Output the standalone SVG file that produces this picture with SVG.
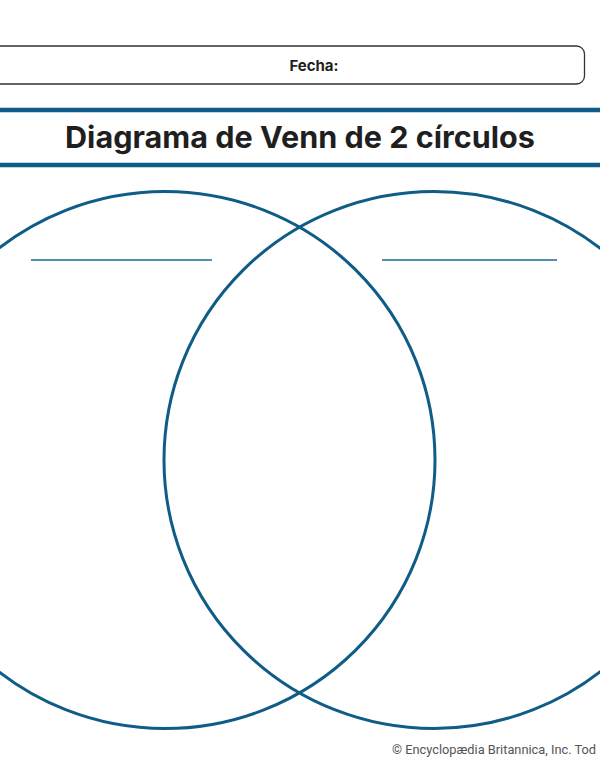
<svg xmlns="http://www.w3.org/2000/svg" width="600" height="776" viewBox="0 0 600 776">
<style>
.band{stroke:#0f5c86;stroke-width:4.5}
.venn{fill:none;stroke:#0f5c86;stroke-width:3}
.label{stroke:#1a6a93;stroke-width:1.5}
.t{font-family:Inter,"Liberation Sans",Arial,sans-serif;fill:#1f1f1f}
</style>
<rect width="600" height="776" fill="#fff"/>
<g id="fecha">
<rect x="-20" y="46" width="604.5" height="38" rx="8" fill="none" stroke="#333" stroke-width="1.3"/>
<text class="t" x="314" y="71" font-size="15" font-weight="700" text-anchor="middle">Fecha:</text>
</g>
<g id="title">
<line class="band" x1="0" y1="110" x2="600" y2="110"/>
<line class="band" x1="0" y1="165" x2="600" y2="165"/>
<text class="t" x="300" y="148" font-size="30.5" font-weight="700" text-anchor="middle" textLength="470" lengthAdjust="spacingAndGlyphs">Diagrama de Venn de 2 círculos</text>
</g>
<g id="circleA">
<ellipse class="venn" cx="165" cy="460" rx="270" ry="268.5"/>
<line class="label" x1="31" y1="260" x2="212" y2="260"/>
</g>
<g id="circleB">
<ellipse class="venn" cx="434" cy="460" rx="270" ry="268.5"/>
<line class="label" x1="382" y1="260" x2="557" y2="260"/>
</g>
<g id="connectors"></g>
<text x="392" y="754" font-family="Roboto,'Liberation Sans',Arial,sans-serif" font-size="13.5" fill="#555" textLength="204" lengthAdjust="spacingAndGlyphs">© Encyclopædia Britannica, Inc. Tod</text>
</svg>
